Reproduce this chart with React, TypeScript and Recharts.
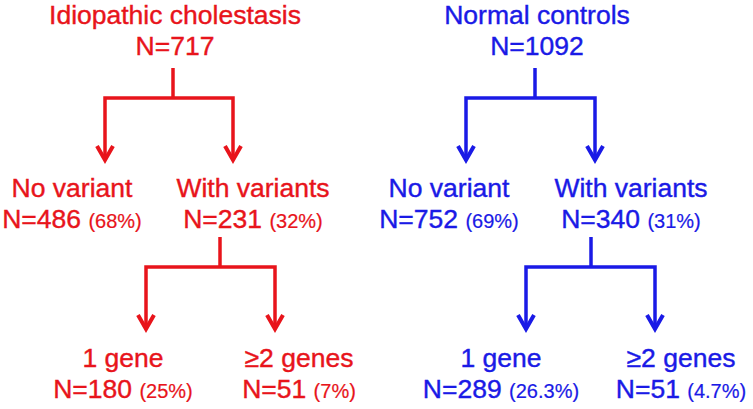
import { ScatterChart, Scatter, XAxis, YAxis } from "recharts";

// cohort data
const cohorts = ["Idiopathic cholestasis", "Normal controls"];
const cohortColors = ["#e8141b", "#1a1ae6"];
const totalN = [717, 1092];
const branchNames = ["No variant", "With variants", "1 gene", "≥2 genes"];
const noVariantN = [486, 752];
const noVariantPct = ["68%", "69%"];
const withVariantsN = [231, 340];
const withVariantsPct = ["32%", "31%"];
const oneGeneN = [180, 289];
const oneGenePct = ["25%", "26.3%"];
const multiGeneN = [51, 51];
const multiGenePct = ["7%", "4.7%"];

// layout, in chart units (1 unit = 1px)
const W = 753;
const H = 409;
const levelY = [24, 197, 367];
const lineGap = 30.5;
const rootX = [175, 537];
const noVarX = [72, 449];
const withVarX = [253, 631];
const oneGeneX = [123, 501];
const multiGeneX = [299, 681];

// forks: stem top -> bend, then down to two arrow tips
const forkCohort = [0, 1, 0, 1];
const forkStemX = [173, 535, 220, 591];
const forkLeftX = [105, 466, 146, 526];
const forkRightX = [233, 595, 275, 655];
const forkTopY = [68, 68, 237, 237];
const forkBendY = [98, 98, 267, 267];
const forkTipY = [163, 163, 332, 332];

const FONT = "'Liberation Sans', Arial, Helvetica, sans-serif";

type Node = { x: number; y: number; title: string; n: number; pct?: string; color: string };

const nodes: Node[] = [];
cohorts.forEach((name, c) => {
  const color = cohortColors[c];
  nodes.push({ x: rootX[c], y: levelY[0], title: name, n: totalN[c], color });
  nodes.push({ x: noVarX[c], y: levelY[1], title: branchNames[0], n: noVariantN[c], pct: noVariantPct[c], color });
  nodes.push({ x: withVarX[c], y: levelY[1], title: branchNames[1], n: withVariantsN[c], pct: withVariantsPct[c], color });
  nodes.push({ x: oneGeneX[c], y: levelY[2], title: branchNames[2], n: oneGeneN[c], pct: oneGenePct[c], color });
  nodes.push({ x: multiGeneX[c], y: levelY[2], title: branchNames[3], n: multiGeneN[c], pct: multiGenePct[c], color });
});

const NodeText = (props: any) => {
  const { cx, cy, payload } = props;
  return (
    <text
      textAnchor="middle"
      fill={payload.color}
      stroke={payload.color}
      strokeWidth={0.4}
      fontFamily={FONT}
      fontSize={26.5}
    >
      <tspan x={cx} y={cy}>{payload.title}</tspan>
      <tspan x={cx} y={cy + lineGap}>
        {payload.pct ? `N=${payload.n} ` : `N=${payload.n}`}
        {payload.pct && <tspan fontSize={20} strokeWidth={0.2}>({payload.pct})</tspan>}
      </tspan>
    </text>
  );
};

const ArrowPoint = (props: any) => {
  const { cx, cy, payload } = props;
  if (!payload.tip) return <g />;
  return (
    <path
      d={`M${cx - 8},${cy - 14} L${cx},${cy} L${cx + 8},${cy - 14}`}
      fill="none"
      stroke={payload.color}
      strokeWidth={4}
      strokeLinejoin="miter"
    />
  );
};

export default function App() {
  return (
    <div style={{ width: W, height: H, background: "#fff" }}>
      <style>{"body{margin:0}"}</style>
      <ScatterChart width={W} height={H} margin={{ top: 0, right: 0, bottom: 0, left: 0 }}>
        <XAxis type="number" dataKey="x" domain={[0, W]} hide />
        <YAxis type="number" dataKey="y" domain={[0, H]} reversed hide width={0} />
        {forkStemX.map((sx, i) => {
          const color = cohortColors[forkCohort[i]];
          const stem = [
            { x: sx, y: forkTopY[i], color },
            { x: sx, y: forkBendY[i], color },
          ];
          const branch = [
            { x: forkLeftX[i], y: forkTipY[i] - 3, color, tip: true },
            { x: forkLeftX[i], y: forkBendY[i], color },
            { x: forkRightX[i], y: forkBendY[i], color },
            { x: forkRightX[i], y: forkTipY[i] - 3, color, tip: true },
          ];
          return [
            <Scatter
              key={`stem-${i}`}
              data={stem}
              fill={color}
              line={{ stroke: color, strokeWidth: 3.5 }}
              shape={() => <g />}
              isAnimationActive={false}
            />,
            <Scatter
              key={`branch-${i}`}
              data={branch}
              fill={color}
              line={{ stroke: color, strokeWidth: 3.5, strokeLinejoin: "miter" }}
              shape={ArrowPoint}
              isAnimationActive={false}
            />,
          ];
        })}
        <Scatter data={nodes} fill="#000" shape={NodeText} isAnimationActive={false} />
      </ScatterChart>
    </div>
  );
}
